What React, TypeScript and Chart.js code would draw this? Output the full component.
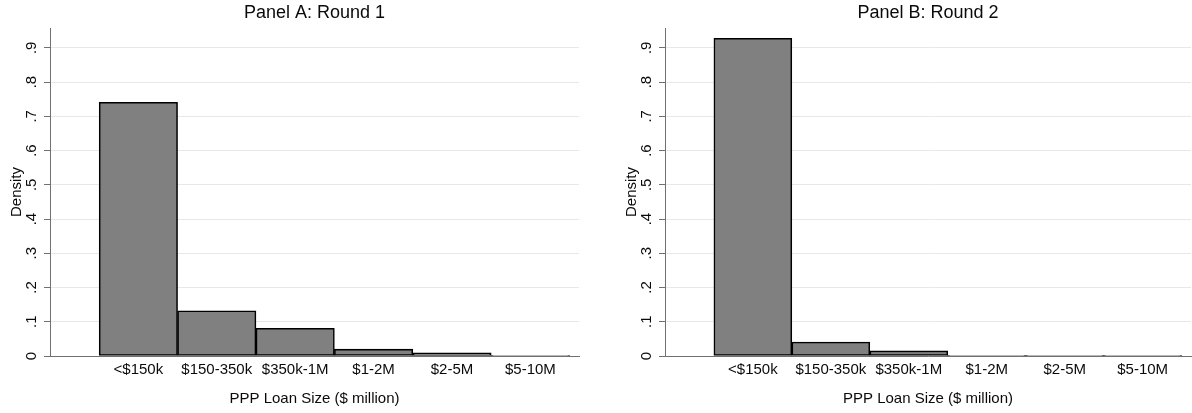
import React, { useEffect, useRef } from 'react';
import { Chart, registerables } from 'chart.js';

Chart.register(...registerables);

// ---- data ----
const categories = ['<$150k', '$150-350k', '$350k-1M', '$1-2M', '$2-5M', '$5-10M'];
const binPositions = [1, 2, 3, 4, 5, 6];
const round1Density = [0.741, 0.132, 0.081, 0.02, 0.009, 0.002];
const round2Density = [0.928, 0.041, 0.015, 0.002, 0.001, 0.002];
const yTickValues = [0, 0.1, 0.2, 0.3, 0.4, 0.5, 0.6, 0.7, 0.8, 0.9];
const yTickLabels = ['0', '.1', '.2', '.3', '.4', '.5', '.6', '.7', '.8', '.9'];
const panelTitles = ['Panel A: Round 1', 'Panel B: Round 2'];
const xAxisTitle = 'PPP Loan Size ($ million)';
const yAxisTitle = 'Density';

const FONT = "'Liberation Sans', Arial, sans-serif";
const TEXT = '#0a0a0a';
const AXIS = '#707070';

type PanelProps = { title: string; values: number[]; left: number; width: number; padRight: number };

function Panel({ title, values, left, width, padRight }: PanelProps) {
  const ref = useRef<HTMLCanvasElement>(null);
  useEffect(() => {
    const chart = new Chart(ref.current as HTMLCanvasElement, {
      type: 'bar',
      data: {
        datasets: [
          {
            data: binPositions.map((x, i) => ({ x, y: values[i] })) as any,
            backgroundColor: '#808080',
            borderColor: '#000000',
            borderWidth: 1.6,
            borderSkipped: false,
            barPercentage: 1,
            categoryPercentage: 1,
          },
        ],
      },
      options: {
        responsive: false,
        animation: false,
        events: [],
        layout: { padding: { left: 0, right: padRight, top: 0, bottom: 0 } },
        plugins: {
          legend: { display: false },
          tooltip: { enabled: false },
          title: {
            display: true,
            text: title,
            fullSize: false,
            color: TEXT,
            font: { family: FONT, size: 18, weight: 'normal' },
            padding: { top: 2, bottom: 4.4 },
          },
        },
        scales: {
          x: {
            type: 'linear',
            min: -0.127,
            max: 6.62,
            offset: false,
            grid: { display: false, drawTicks: false },
            border: { display: true, color: AXIS, width: 1 },
            afterBuildTicks: (s: any) => {
              s.ticks = binPositions.map((v) => ({ value: v }));
            },
            afterFit: (s: any) => {
              s.height = 57;
            },
            ticks: {
              padding: 5,
              autoSkip: false,
              maxRotation: 0,
              minRotation: 0,
              color: TEXT,
              font: { family: FONT, size: 15 },
              callback: (_v: any, i: number) => categories[i],
            },
            title: {
              display: true,
              text: xAxisTitle,
              color: TEXT,
              font: { family: FONT, size: 15 },
              padding: { top: 0, bottom: 5 },
            },
          },
          y: {
            type: 'linear',
            min: 0,
            max: 0.958,
            afterBuildTicks: (s: any) => {
              s.ticks = yTickValues.map((v) => ({ value: v }));
            },
            afterFit: (s: any) => {
              s.width = 50;
            },
            grid: { color: '#e8e8e8', lineWidth: 1, tickColor: AXIS, tickLength: 6, drawTicks: true },
            border: { display: true, color: AXIS, width: 1 },
            ticks: {
              minRotation: 90,
              maxRotation: 90,
              crossAlign: 'center',
              padding: 6,
              color: TEXT,
              font: { family: FONT, size: 15 },
              callback: (_v: any, i: number) => yTickLabels[i],
            },
            title: {
              display: true,
              text: yAxisTitle,
              color: TEXT,
              font: { family: FONT, size: 15 },
              padding: { top: 8, bottom: 0 },
            },
          },
        },
      } as any,
    });
    return () => chart.destroy();
  }, []);
  return (
    <canvas
      ref={ref}
      width={width}
      height={413}
      style={{ position: 'absolute', left, top: 0, width, height: 413 }}
    />
  );
}

export default function App() {
  return (
    <div style={{ position: 'absolute', left: 0, top: 0, width: 1192, height: 413, background: '#ffffff' }}>
      <Panel title={panelTitles[0]} values={round1Density} left={0} width={596} padRight={17} />
      <Panel title={panelTitles[1]} values={round2Density} left={615} width={577} padRight={1} />
    </div>
  );
}
